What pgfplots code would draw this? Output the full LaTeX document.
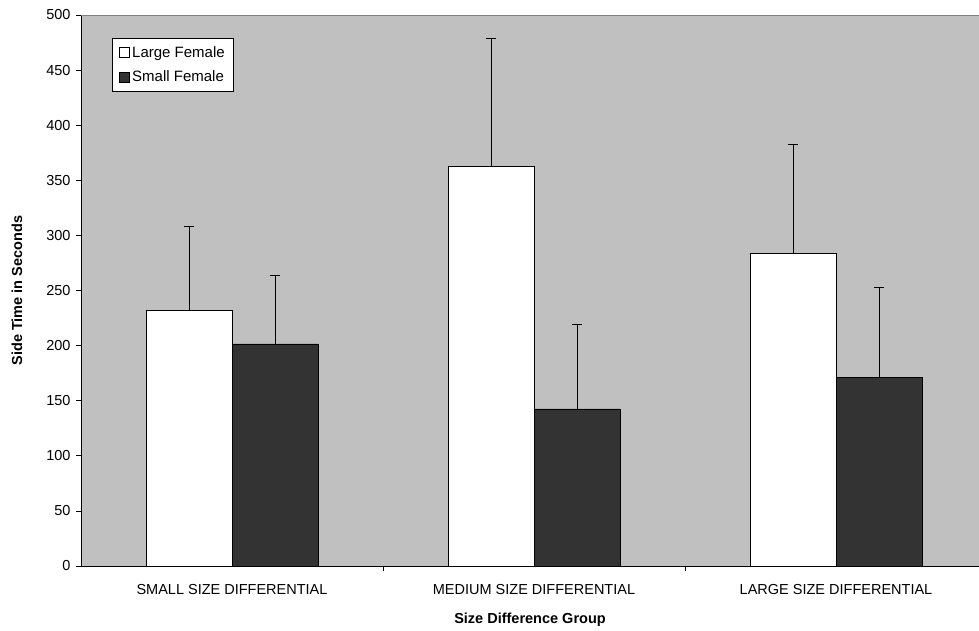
\documentclass[border=0pt]{standalone}
\usepackage{fontspec}
\setmainfont{Liberation Sans}
\usepackage{pgfplots}
\pgfplotsset{compat=1.18}
\definecolor{bggray}{HTML}{C0C0C0}
\definecolor{darkbar}{HTML}{333333}
\begin{document}
\begin{tikzpicture}
\begin{axis}[
  width=898pt, height=551pt, scale only axis,
  xmin=-0.5, xmax=2.4735,
  ymin=0, ymax=500,
  ytick={0,50,...,500},
  /pgf/number format/assume math mode=true,
  ybar=0pt, bar width=86pt,
  axis x line*=bottom, axis y line*=left,
  axis line style={black, line width=0.8pt},
  axis background/.style={fill=bggray},
  tick align=outside, major tick length=5pt,
  tick style={black, line width=0.6pt},
  xtick={0,1,2},
  xticklabels={SMALL SIZE DIFFERENTIAL, MEDIUM SIZE DIFFERENTIAL, LARGE SIZE DIFFERENTIAL},
  xtick style={draw=none},
  extra x ticks={0.5,1.5},
  extra x tick labels={},
  extra x tick style={xtick style={draw=black, line width=0.6pt}},
  ticklabel style={font=\fontsize{14.5}{16}\selectfont},
  xticklabel style={yshift=-10pt},
  yticklabel style={xshift=-2pt},
  xlabel={\textbf{Size Difference Group}},
  ylabel={\textbf{Side Time in Seconds}},
  label style={font=\fontsize{14.5}{16}\selectfont},
  xlabel style={at={(axis description cs:0.5,-0.0975)}, anchor=center},
  ylabel style={at={(axis description cs:-0.0713,0.5)}, anchor=center},
  legend style={at={(axis description cs:0.0345,0.958)}, anchor=north west,
    draw=black, fill=white, font=\fontsize{15}{17}\selectfont,
    row sep=8pt, inner xsep=7pt, inner ysep=6pt, line width=0.8pt},
  legend cell align=left,
  legend image code/.code={\draw[#1, line width=0.8pt] (0pt,-5pt) rectangle (10pt,5pt);},
  error bars/y dir=plus, error bars/y explicit,
  error bars/error bar style={black, line width=1pt},
  error bars/error mark options={black, rotate=90, mark size=5pt, line width=1pt},
]
\addplot[draw=black, fill=white, line width=0.8pt] coordinates {
  (0,231.7) +- (0,76.2)
  (1,362.4) +- (0,116.0)
  (2,283.4) +- (0,99.3)
};
\addplot[draw=black, fill=darkbar, line width=0.8pt] coordinates {
  (0,201.5) +- (0,61.7)
  (1,142.5) +- (0,76.7)
  (2,171.2) +- (0,81.7)
};
\legend{Large Female, Small Female}
\draw[gray, line width=0.8pt] (rel axis cs:0,1) -- (rel axis cs:1,1);
\end{axis}
\pgfresetboundingbox
\path[use as bounding box] ([xshift=-81pt,yshift=-65pt]current axis.south west) rectangle ([yshift=15pt]current axis.north east);
\end{tikzpicture}
\end{document}
